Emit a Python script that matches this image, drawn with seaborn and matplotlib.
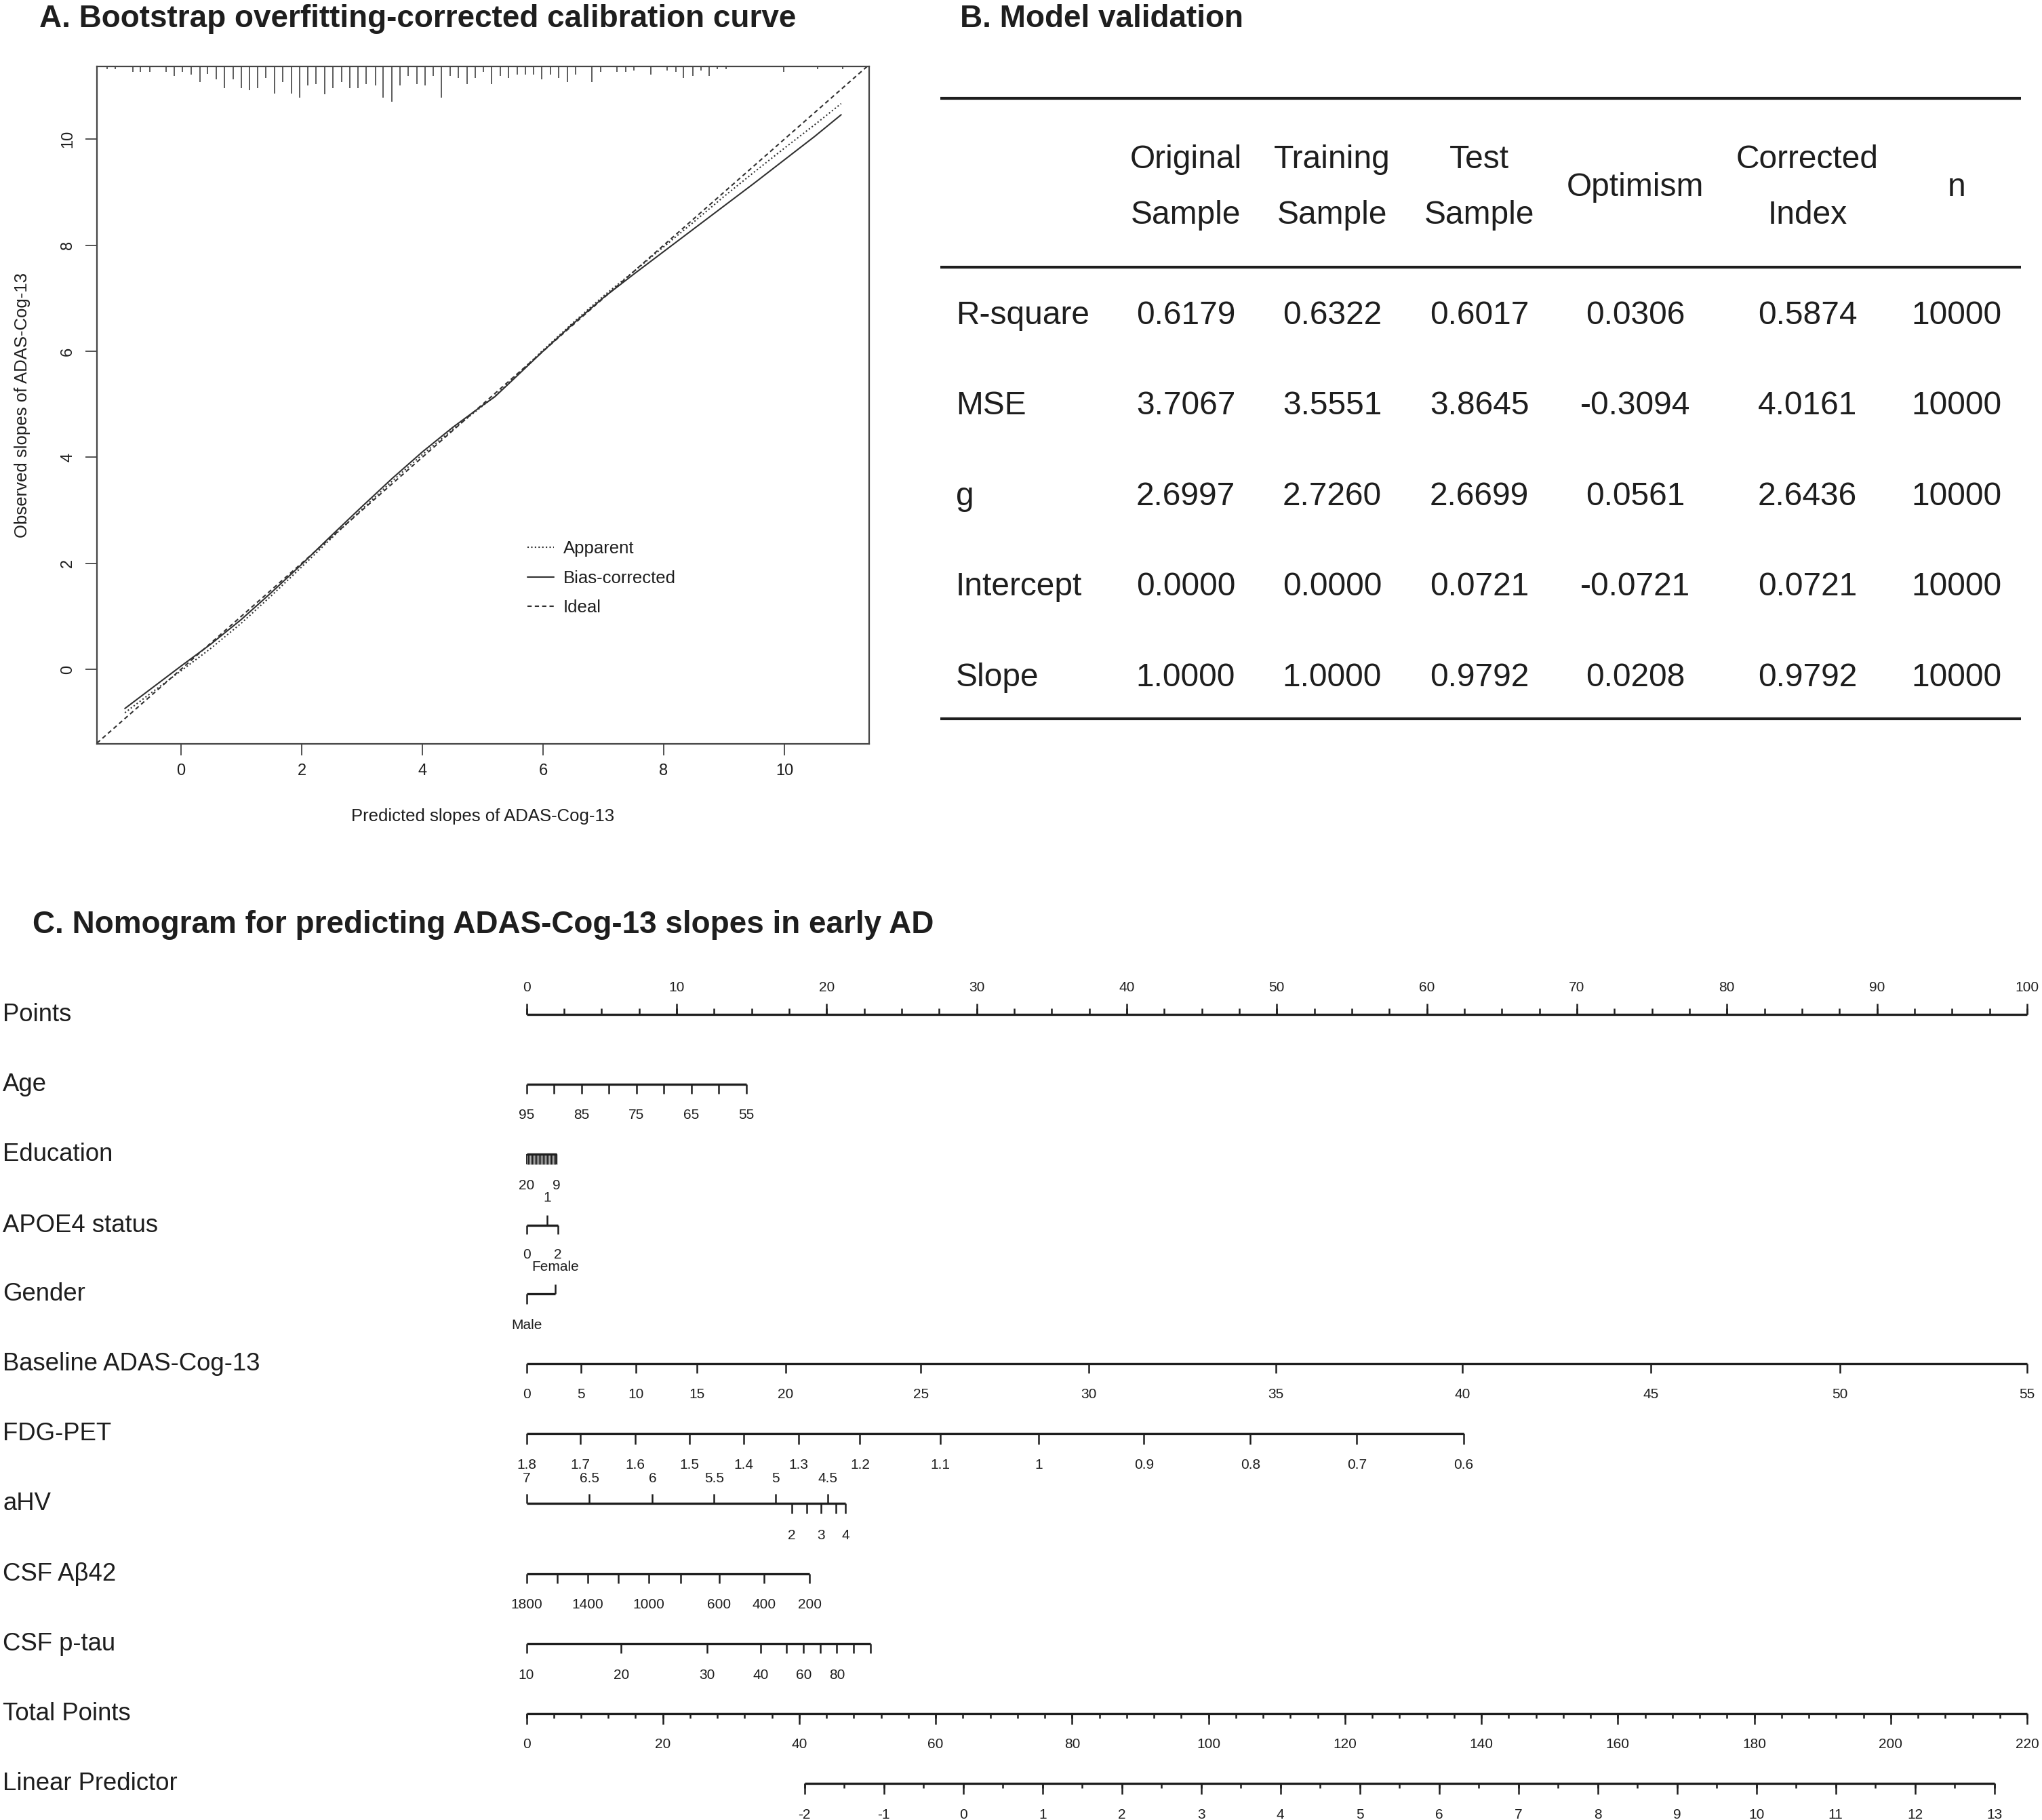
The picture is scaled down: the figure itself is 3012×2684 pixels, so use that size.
import numpy as np
import pandas as pd
import matplotlib
matplotlib.use("Agg")
import matplotlib.pyplot as plt
import matplotlib.transforms as mtransforms
from matplotlib.lines import Line2D
import seaborn as sns

sns.set_theme(style="white")
plt.rcParams["font.family"] = ["Liberation Sans", "DejaVu Sans"]

# ---------------------------------------------------------------- data
# Panel A: calibration curve
cal_pred = [-0.93, -0.5, 0.0, 0.5, 1.0, 1.5, 2.0, 2.5, 3.0, 3.5, 4.0, 4.5, 5.0,
            5.2, 5.5, 6.0, 6.5, 7.0, 7.5, 8.0, 8.5, 9.0, 9.5, 10.0, 10.5, 10.94]
cal_corrected = [-0.74, -0.37, 0.06, 0.48, 0.94, 1.45, 1.98, 2.53, 3.07, 3.60, 4.10,
                 4.56, 4.98, 5.14, 5.46, 6.00, 6.52, 7.01, 7.45, 7.88, 8.31, 8.74,
                 9.17, 9.61, 10.05, 10.46]
cal_apparent = [-0.82, -0.45, -0.03, 0.40, 0.87, 1.39, 1.93, 2.48, 3.02, 3.55, 4.05,
                4.52, 4.97, 5.15, 5.48, 6.02, 6.54, 7.04, 7.50, 7.97, 8.44, 8.92,
                9.38, 9.83, 10.27, 10.67]
rug_pred = [-1.23, -1.09, -0.80, -0.67, -0.52, -0.25, -0.11, 0.02, 0.17, 0.31, 0.44,
            0.58, 0.72, 0.86, 1.00, 1.14, 1.27, 1.41, 1.55, 1.69, 1.83, 1.97, 2.10,
            2.24, 2.38, 2.52, 2.66, 2.80, 2.93, 3.07, 3.22, 3.35, 3.49, 3.63, 3.76,
            3.91, 4.05, 4.18, 4.32, 4.46, 4.60, 4.74, 4.88, 5.01, 5.15, 5.29, 5.43,
            5.57, 5.71, 5.84, 5.98, 6.12, 6.26, 6.40, 6.54, 6.81, 6.95, 7.23, 7.37,
            7.50, 7.79, 8.06, 8.20, 8.33, 8.48, 8.62, 8.75, 8.89, 9.03, 9.99, 10.55,
            10.97]
rug_freq = [4, 4, 8, 8, 8, 8, 14, 8, 12, 23, 11,
            19, 32, 19, 32, 35, 32, 17, 40, 23, 40, 46, 28,
            26, 41, 32, 23, 32, 32, 26, 28, 46, 52, 28, 14,
            26, 28, 14, 46, 14, 17, 26, 17, 8, 26, 14, 17,
            12, 12, 12, 19, 12, 17, 23, 12, 23, 8, 8, 8,
            6, 12, 6, 8, 17, 14, 6, 14, 4, 4, 8, 4,
            4]
cal_ticks = [0, 2, 4, 6, 8, 10]

# Panel B: model validation table
tbl_header1 = ["Original", "Training", "Test", "Optimism", "Corrected", "n"]
tbl_header2 = ["Sample", "Sample", "Sample", "", "Index", ""]
tbl_rows = ["R-square", "MSE", "g", "Intercept", "Slope"]
tbl_original = [0.6179, 3.7067, 2.6997, 0.0000, 1.0000]
tbl_training = [0.6322, 3.5551, 2.7260, 0.0000, 1.0000]
tbl_test = [0.6017, 3.8645, 2.6699, 0.0721, 0.9792]
tbl_optimism = [0.0306, -0.3094, 0.0561, -0.0721, 0.0208]
tbl_corrected = [0.5874, 4.0161, 2.6436, 0.0721, 0.9792]
tbl_n = [10000, 10000, 10000, 10000, 10000]

# Panel C: nomogram (values and their points)
points_major = [0, 10, 20, 30, 40, 50, 60, 70, 80, 90, 100]
age_vals = [95, 90, 85, 80, 75, 70, 65, 60, 55]
age_pts = [0.0, 1.83, 3.66, 5.49, 7.33, 9.16, 10.99, 12.82, 14.65]
age_labeled = [95, 85, 75, 65, 55]
edu_ends = [20, 9]
edu_end_pts = [0.0, 2.0]
apoe_vals = [0, 1, 2]
apoe_pts = [0.0, 1.37, 2.09]
gender_vals = ["Male", "Female"]
gender_pts = [0.0, 1.94]
adas_vals = [0, 5, 10, 15, 20, 25, 30, 35, 40, 45, 50, 55]
adas_pts = [0.0, 3.64, 7.29, 11.36, 17.26, 26.28, 37.47, 49.96, 62.36, 74.93, 87.51, 100.0]
fdg_vals = ["1.8", "1.7", "1.6", "1.5", "1.4", "1.3", "1.2", "1.1", "1", "0.9", "0.8", "0.7", "0.6"]
fdg_pts = [0.0, 3.60, 7.23, 10.87, 14.48, 18.12, 22.22, 27.56, 34.15, 41.15, 48.24, 55.33, 62.45]
ahv_up_vals = ["7", "6.5", "6", "5.5", "5", "4.5"]
ahv_up_pts = [0.0, 4.2, 8.4, 12.5, 16.6, 20.06]
ahv_down_vals = ["4", "", "3", "", "2"]
ahv_down_pts = [21.27, 20.62, 19.65, 18.68, 17.67]
ab42_vals = ["1800", "", "1400", "", "1000", "", "600", "400", "200"]
ab42_pts = [0.0, 2.05, 4.09, 6.13, 8.16, 10.26, 12.84, 15.83, 18.87]
ptau_vals = ["10", "20", "30", "40", "", "60", "", "80", "", ""]
ptau_pts = [0.0, 6.31, 12.05, 15.62, 17.34, 18.47, 19.58, 20.69, 21.79, 22.92]
total_max = 220
total_major = [0, 20, 40, 60, 80, 100, 120, 140, 160, 180, 200, 220]
lp_labels = [-2, -1, 0, 1, 2, 3, 4, 5, 6, 7, 8, 9, 10, 11, 12, 13]
lp_total_at_ends = [40.77, 215.2]   # total points where LP = -2 and LP = 13

# ---------------------------------------------------------------- figure
W, H, DPI = 3012, 2684, 100
fig = plt.figure(figsize=(W / DPI, H / DPI), dpi=DPI)
fig.patch.set_facecolor("white")
INK = "#1e1e1e"
LINE = "#303030"

# canvas axes in pixel units (titles, table, row names)
bg = fig.add_axes([0, 0, 1, 1])
bg.set_xlim(0, W)
bg.set_ylim(H, 0)
bg.axis("off")

# nomogram axes: x in "Points" units
PX0, PXU = 776.5, 22.135
nom = fig.add_axes([0, 0, 1, 1])
nom.set_xlim(-PX0 / PXU, (W - PX0) / PXU)
nom.set_ylim(H, 0)
nom.axis("off")

# ---------------------------------------------------------------- panel A
cal = fig.add_axes([143 / W, 1 - 1097 / H, 1139 / W, 999 / H])
n = len(cal_pred)
df = pd.DataFrame({
    "pred": cal_pred + cal_pred,
    "obs": cal_apparent + cal_corrected,
    "curve": ["Apparent"] * n + ["Bias-corrected"] * n,
})
DOT = (1, 1.6)
DASH = (3, 2.2)
sns.lineplot(data=df, x="pred", y="obs", style="curve",
             dashes={"Apparent": DOT, "Bias-corrected": ""},
             color=LINE, linewidth=1.5, estimator=None, sort=False,
             legend=False, ax=cal)
cal.axline((0, 0), slope=1, color=LINE, lw=1.5, dashes=DASH)

rug_h = np.array(rug_freq) / max(rug_freq) * 0.052
trans = mtransforms.blended_transform_factory(cal.transData, cal.transAxes)
cal.vlines(rug_pred, 1 - rug_h, 1, transform=trans, color=LINE, lw=1.1)

cal.set_xlim(-1.393, 11.404)
cal.set_ylim(-1.407, 11.371)
cal.set_xticks(cal_ticks)
cal.set_yticks(cal_ticks)
cal.set_xlabel("")
cal.set_ylabel("")
for s in cal.spines.values():
    s.set_visible(True)
    s.set_color("#444444")
    s.set_linewidth(1.6)
cal.tick_params(axis="both", direction="out", length=12, width=1.3, color="#444444",
                labelsize=17, labelcolor=INK)
cal.tick_params(axis="x", pad=9, bottom=True)
cal.tick_params(axis="y", pad=11, left=True)
for lab in cal.get_yticklabels():
    lab.set_rotation(90)
    lab.set_va("center")
cal.text(0.4996, -0.107, "Predicted slopes of ADAS-Cog-13", transform=cal.transAxes,
         ha="center", va="center", fontsize=18.5, color=INK)
cal.text(-0.0966, 0.5, "Observed slopes of ADAS-Cog-13", transform=cal.transAxes,
         ha="center", va="center", rotation=90, fontsize=18.5, color=INK)

handles = [Line2D([], [], color=LINE, lw=1.5, dashes=DOT),
           Line2D([], [], color=LINE, lw=1.5),
           Line2D([], [], color=LINE, lw=1.5, dashes=DASH)]
leg = cal.legend(handles, ["Apparent", "Bias-corrected", "Ideal"], loc="upper left",
                 bbox_to_anchor=(0.5575, 0.300), frameon=False, fontsize=18.5,
                 handlelength=1.5, handletextpad=0.55, labelspacing=0.76,
                 borderpad=0, borderaxespad=0)
for t in leg.get_texts():
    t.set_color(INK)

# ---------------------------------------------------------------- titles
TITLE = dict(fontsize=33, fontweight="bold", color=INK, va="baseline", ha="left")
bg.text(58, 40, "A. Bootstrap overfitting-corrected calibration curve", **TITLE)
bg.text(1416, 40, "B. Model validation", **TITLE)
bg.text(48, 1376, "C. Nomogram for predicting ADAS-Cog-13 slopes in early AD", **TITLE)

# ---------------------------------------------------------------- panel B
bg.hlines([145, 394, 1060], 1387, 2981, color=INK, lw=3.0)
col_x = [1749, 1965, 2182, 2412, 2666, 2886]
TBL = dict(fontsize=34.5, color=INK, va="baseline", ha="center")
for cx, h1, h2 in zip(col_x, tbl_header1, tbl_header2):
    if h2:
        bg.text(cx, 248, h1, **TBL)
        bg.text(cx, 330, h2, **TBL)
    else:
        bg.text(cx, 289, h1, **TBL)
row_y = [478, 611, 745, 878, 1012]
cols = [tbl_original, tbl_training, tbl_test, tbl_optimism, tbl_corrected]
for i, (ry, name) in enumerate(zip(row_y, tbl_rows)):
    bg.text(1410, ry, name, fontsize=34.5, color=INK, va="baseline", ha="left")
    for cx, col in zip(col_x[:5], cols):
        bg.text(cx, ry, f"{col[i]:.4f}", **TBL)
    bg.text(col_x[5], ry, f"{tbl_n[i]}", **TBL)

# ---------------------------------------------------------------- panel C
AX_LW, TK_LW = 2.4, 1.8
LAB_FS = 15


def row_name(y, text):
    bg.text(4, y + 10, text, fontsize=26.3, color=INK, va="baseline", ha="left")


def axis_line(y, pts):
    nom.hlines(y, min(pts), max(pts), color=INK, lw=AX_LW)


def ticks(pts, y, length, labels=None, label_y=None, lw=TK_LW):
    nom.vlines(pts, y, y + length, color=INK, lw=lw)
    if labels is not None:
        for p, lab in zip(pts, labels):
            if lab != "" and lab is not None:
                nom.text(p, label_y + 7.5, str(lab), ha="center", va="baseline",
                         fontsize=LAB_FS, color=INK)


# Points
y = 1496
row_name(y, "Points")
axis_line(y, points_major)
ticks(np.arange(0, 100.01, 2.5), y, -9)
ticks(points_major, y, -16, points_major, 1455)

# Age
y = 1599
row_name(y, "Age")
axis_line(y, age_pts)
ticks(age_pts, y, 14, [v if v in age_labeled else "" for v in age_vals], 1643)

# Education
y = 1702
row_name(y, "Education")
edu_ticks = np.arange(9, 20.01, 0.5)
edu_tick_pts = np.interp(edu_ticks, edu_ends[::-1], edu_end_pts[::-1])
axis_line(y, edu_end_pts)
ticks(edu_tick_pts, y, 15, lw=1.0)
ticks(edu_end_pts, y, 15, edu_ends, 1746, lw=1.3)

# APOE4 status
y = 1807
row_name(y, "APOE4 status")
axis_line(y, apoe_pts)
ticks([apoe_pts[0], apoe_pts[2]], y, 13, [apoe_vals[0], apoe_vals[2]], 1848)
ticks([apoe_pts[1]], y, -15, [apoe_vals[1]], 1764)

# Gender
y = 1908
row_name(y, "Gender")
axis_line(y, gender_pts)
ticks([gender_pts[0]], y, 15, [gender_vals[0]], 1952)
ticks([gender_pts[1]], y, -14, [gender_vals[1]], 1867)

# Baseline ADAS-Cog-13
y = 2011
row_name(y, "Baseline ADAS-Cog-13")
axis_line(y, adas_pts)
ticks(adas_pts, y, 14, adas_vals, 2055)

# FDG-PET
y = 2114
row_name(y, "FDG-PET")
axis_line(y, fdg_pts)
ticks(fdg_pts, y, 16, fdg_vals, 2159)

# aHV
y = 2217
row_name(y, "aHV")
axis_line(y, ahv_up_pts + ahv_down_pts)
ticks(ahv_up_pts, y, -14, ahv_up_vals, 2178)
ticks(ahv_down_pts, y, 15, ahv_down_vals, 2263)

# CSF Abeta42
y = 2321
row_name(y, "CSF Aβ42")
axis_line(y, ab42_pts)
ticks(ab42_pts, y, 14, ab42_vals, 2365)

# CSF p-tau
y = 2424
row_name(y, "CSF p-tau")
axis_line(y, ptau_pts)
ticks(ptau_pts, y, 14, ptau_vals, 2468)

# Total Points
y = 2527
row_name(y, "Total Points")
tp_scale = 100 / total_max
axis_line(y, [0, total_max * tp_scale])
ticks(np.arange(0, total_max + 0.01, 4) * tp_scale, y, 7)
ticks(np.array(total_major) * tp_scale, y, 16, total_major, 2570)

# Linear Predictor
y = 2630
row_name(y, "Linear Predictor")
lp_to_pts = lambda v: np.interp(v, [lp_labels[0], lp_labels[-1]], lp_total_at_ends) * tp_scale
axis_line(y, lp_to_pts(np.array([lp_labels[0], lp_labels[-1]])))
ticks(lp_to_pts(np.arange(lp_labels[0], lp_labels[-1] + 0.01, 0.5)), y, 7)
ticks(lp_to_pts(np.array(lp_labels)), y, 16, lp_labels, 2675)

fig.savefig("out.png", dpi=DPI, facecolor="white")
